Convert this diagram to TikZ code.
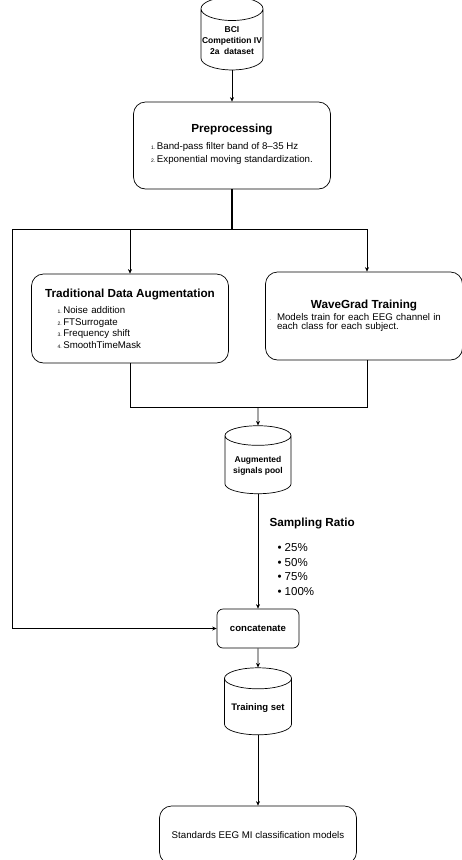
\documentclass[tikz,border=0pt]{standalone}
\usepackage{fontspec}
\setmainfont{Liberation Sans}
\usepackage{tikz}
\usetikzlibrary{arrows.meta,positioning,shapes.geometric,calc}

\newcommand{\numtag}[1]{{\fontsize{5}{6}\selectfont #1.}\,}

\begin{document}
\begin{tikzpicture}[
  x=1pt, y=-1pt,
  every node/.style={font=\fontsize{9.7}{12.5}\selectfont},
  box/.style={rectangle, rounded corners=12pt, draw=black, line width=0.7pt, inner sep=4pt},
  store/.style={cylinder, shape border rotate=90, aspect=0.38, draw=black, line width=0.7pt, align=center, inner sep=1pt, font=\bfseries\fontsize{8.5}{11}\selectfont},
  title/.style={font=\bfseries\fontsize{11.7}{14}\selectfont},
  arrow/.style={-{Stealth[length=4.5pt,width=4pt]}, line width=0.7pt},
  link/.style={line width=0.7pt}
]
\useasboundingbox (0,0) rectangle (461,860);

\node[store, minimum width=62pt, minimum height=73pt] (data) at (232,41) {BCI\\Competition IV\\2a\ \ dataset};
\node[box, minimum width=197pt, minimum height=87pt, align=center] (prep) at (232,145.5)
  {{\bfseries\fontsize{11.7}{14}\selectfont Preprocessing}\\[5pt]
   \begin{tabular}{@{}l@{}}\numtag{1}Band-pass filter band of 8--35 Hz\\[0.5pt]
   \numtag{2}Exponential moving standardization.\end{tabular}};
\node[box, minimum width=197pt, minimum height=89pt, text width=189pt, align=left] (trad) at (130,318.5)
  {\makebox[189pt]{\bfseries\fontsize{11.7}{14}\selectfont Traditional Data Augmentation}\\[4pt]
   \hspace*{22pt}\numtag{1}Noise addition\\[-1pt]
   \hspace*{22pt}\numtag{2}FTSurrogate\\[-1pt]
   \hspace*{22pt}\numtag{3}Frequency shift\\[-1pt]
   \hspace*{22pt}\numtag{4}SmoothTimeMask};
\node[box, minimum width=197pt, minimum height=88pt, text width=189pt, align=left] (wave) at (364,316)
  {\makebox[189pt]{\bfseries\fontsize{11.7}{14}\selectfont WaveGrad Training}\\[-1pt]
   \makebox[7.5pt][l]{\fontsize{5}{6}\selectfont .}Models train for each EEG channel in\\[-3pt]
   \hspace*{7.5pt}each class for each subject.};
\node[store, minimum width=66pt, minimum height=68pt] (pool) at (258,466) {Augmented\\signals pool};
\node[box, rounded corners=6pt, minimum width=82pt, minimum height=39pt, font=\bfseries\fontsize{9.6}{12}\selectfont] (concat) at (258,628.5) {concatenate};
\node[store, minimum width=67pt, minimum height=67pt, font=\bfseries\fontsize{9.5}{12}\selectfont] (train) at (258,708) {Training set};
\node[box, minimum width=197pt, minimum height=58pt] (models) at (258,835) {Standards EEG MI classification models};

\node[title, anchor=west] (ratio) at (266,523) {Sampling Ratio};
\node[anchor=north west, align=left, font=\fontsize{11.5}{14.5}\selectfont] (ratios) at (274,540)
  {\textbullet\ 25\%\\ \textbullet\ 50\%\\ \textbullet\ 75\%\\ \textbullet\ 100\%};

\coordinate (split) at (232,229);
\coordinate (left) at (12,229);
\coordinate (merge) at (258,407);

\draw[arrow] (data) -- (prep);
\draw[line width=1.8pt] (prep.south) -- (split);
\draw[link] (left) -- (split);
\draw[arrow] (split) -| (trad.north);
\draw[arrow] (split) -| ([xshift=3pt]wave.north);
\draw[link] (trad.south) |- (merge);
\draw[link] ([xshift=3pt]wave.south) |- (merge);
\draw[arrow] (merge) -- (pool.north);
\draw[arrow] (pool) -- (concat);
\draw[arrow] (left) |- (concat.west);
\draw[arrow] (concat) -- (train);
\draw[arrow] (train) -- (models);
\end{tikzpicture}
\end{document}
